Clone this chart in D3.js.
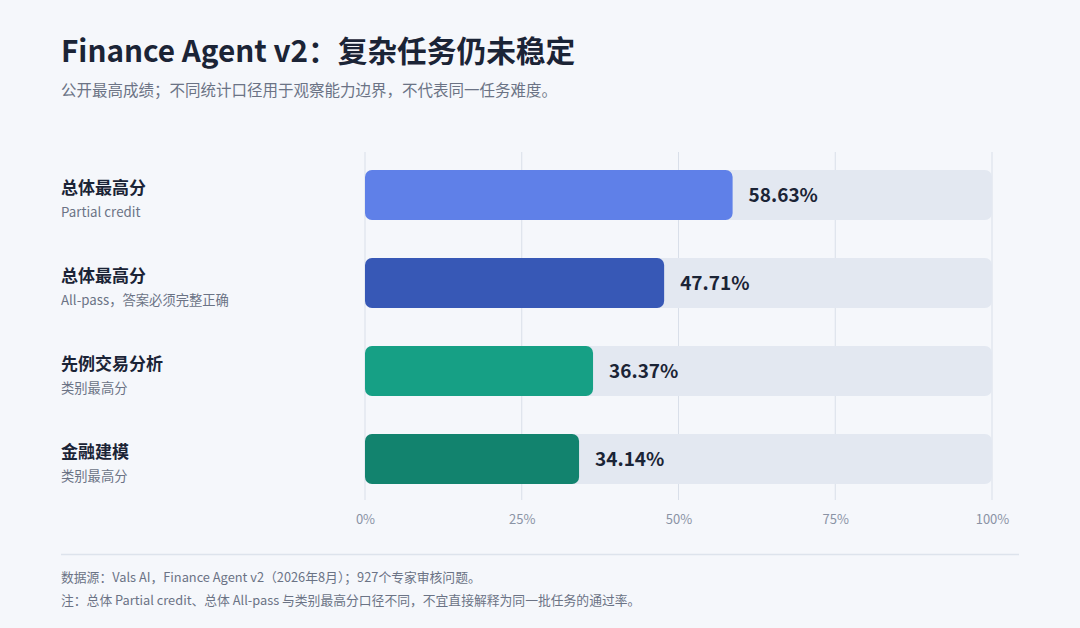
<!DOCTYPE html>
<meta charset="utf-8">
<script src="https://d3js.org/d3.v7.min.js"></script>
<style>
  body { margin: 0; background: #f5f7fb; }
  svg { display: block; font-family: "Noto Sans CJK SC", "Noto Sans", sans-serif; }
</style>
<svg id="chart" width="1080" height="628"></svg>
<script>

// data
var categories = ["总体最高分", "总体最高分", "先例交易分析", "金融建模"];
var subLabels = ["Partial credit", "All-pass，答案必须完整正确", "类别最高分", "类别最高分"];
var values = [58.63, 47.71, 36.37, 34.14];
var barColors = ["#5f80e8", "#3758b6", "#16a085", "#12836e"];
var ticks = [0, 25, 50, 75, 100];

var svg = d3.select("#chart"),
    width = +svg.attr("width"),
    height = +svg.attr("height");

svg.append("rect").attr("width", width).attr("height", height).attr("fill", "#f5f7fb");

// title
svg.append("text")
    .attr("x", 61).attr("y", 62)
    .attr("font-size", 29.7).attr("font-weight", 700)
    .attr("fill", "#1b2436")
    .text("Finance Agent v2：复杂任务仍未稳定");

svg.append("text")
    .attr("x", 61).attr("y", 96)
    .attr("font-size", 15.5)
    .attr("fill", "#6b7385")
    .text("公开最高成绩；不同统计口径用于观察能力边界，不代表同一任务难度。");

// scales
var x = d3.scaleLinear().domain([0, 100]).range([365, 992]);
var y = d3.scaleBand().domain(d3.range(categories.length)).range([152, 502]).paddingInner(0.432).paddingOuter(0.2045);

// grid
svg.append("g").selectAll("line")
  .data(ticks).enter().append("line")
    .attr("x1", d => x(d)).attr("x2", d => x(d))
    .attr("y1", 152).attr("y2", 500)
    .attr("stroke", "#d9dfe9").attr("stroke-width", 1);

// tracks + bars
var rows = svg.append("g").selectAll("g")
  .data(values).enter().append("g");

rows.append("rect")
    .attr("x", x(0)).attr("y", (d, i) => y(i))
    .attr("width", x(100) - x(0)).attr("height", y.bandwidth())
    .attr("rx", 7)
    .attr("fill", "#e3e8f1");

rows.append("rect")
    .attr("x", x(0)).attr("y", (d, i) => y(i))
    .attr("width", d => x(d) - x(0)).attr("height", y.bandwidth())
    .attr("rx", 7)
    .attr("fill", (d, i) => barColors[i]);

rows.append("text")
    .attr("x", d => x(d) + 16)
    .attr("y", (d, i) => y(i) + y.bandwidth() / 2)
    .attr("dy", "0.35em")
    .attr("font-size", 19).attr("font-weight", 700)
    .attr("fill", "#1b2436")
    .text(d => d3.format(".2f")(d) + "%");

// row labels
rows.append("text")
    .attr("x", 61).attr("y", (d, i) => y(i) + 24)
    .attr("font-size", 17).attr("font-weight", 700)
    .attr("fill", "#1b2436")
    .text((d, i) => categories[i]);

rows.append("text")
    .attr("x", 61).attr("y", (d, i) => y(i) + 47)
    .attr("font-size", 13.3)
    .attr("fill", "#6b7385")
    .text((d, i) => subLabels[i]);

// x axis
var axis = svg.append("g")
    .attr("transform", "translate(0,507)")
    .call(d3.axisBottom(x).tickValues(ticks).tickSize(0).tickPadding(8).tickFormat(d => d + "%"));
axis.select(".domain").remove();
axis.selectAll("text")
    .attr("font-family", "Noto Sans CJK SC")
    .attr("font-size", 13)
    .attr("fill", "#8a93a5");

// footer
svg.append("line")
    .attr("x1", 61).attr("x2", 1019)
    .attr("y1", 554.5).attr("y2", 554.5)
    .attr("stroke", "#dde3ec").attr("stroke-width", 1.5);

svg.append("text")
    .attr("x", 61).attr("y", 582)
    .attr("font-size", 12.8).attr("fill", "#6b7385")
    .text("数据源：Vals AI，Finance Agent v2（2026年8月）；927个专家审核问题。");

svg.append("text")
    .attr("x", 61).attr("y", 605)
    .attr("font-size", 12.8).attr("fill", "#6b7385")
    .text("注：总体 Partial credit、总体 All-pass 与类别最高分口径不同，不宜直接解释为同一批任务的通过率。");

</script>
